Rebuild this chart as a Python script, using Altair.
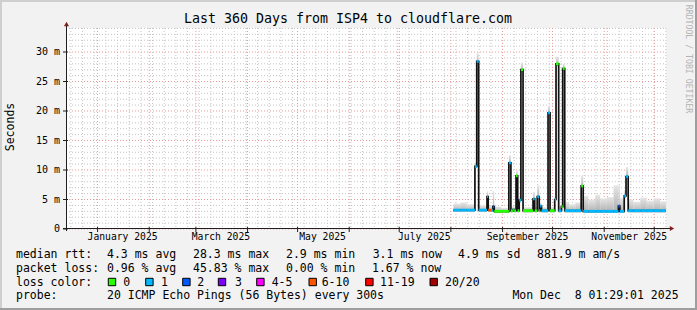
import altair as alt
import pandas as pd

# ------------------------------------------------------------------ data
seg_start = [
    "2025-08-02 12:00", "2025-08-06 14:00", "2025-08-10 14:00", "2025-08-15 10:00",
    "2025-08-16 12:00", "2025-08-17 16:00", "2025-08-22 16:00", "2025-08-23 09:00",
    "2025-08-25 02:00", "2025-08-26 04:00", "2025-08-27 00:00", "2025-08-31 02:00",
    "2025-09-04 19:00", "2025-09-06 00:00", "2025-09-07 04:00", "2025-09-08 00:00",
    "2025-09-09 02:00", "2025-09-10 02:00", "2025-09-11 00:00", "2025-09-12 00:00",
    "2025-09-13 07:00", "2025-09-19 07:00", "2025-09-20 07:00", "2025-09-21 19:00",
    "2025-09-23 00:00", "2025-09-23 14:00", "2025-09-24 09:00", "2025-09-28 07:00",
    "2025-09-29 12:00", "2025-10-02 07:00", "2025-10-03 02:00", "2025-10-04 16:00",
    "2025-10-06 07:00", "2025-10-07 02:00", "2025-10-08 07:00", "2025-10-11 02:00",
    "2025-10-14 14:00", "2025-10-18 04:00", "2025-10-19 09:00", "2025-10-22 14:00",
    "2025-10-26 14:00", "2025-10-29 14:00", "2025-11-02 14:00", "2025-11-06 14:00",
    "2025-11-09 12:00", "2025-11-10 09:00", "2025-11-13 00:00", "2025-11-14 02:00",
    "2025-11-15 09:00", "2025-11-18 14:00", "2025-11-22 14:00", "2025-11-26 14:00",
    "2025-11-30 14:00", "2025-12-04 14:00",
]
series_end = "2025-12-08 00:00"
seg_median = [
    3.2, 3.2, 3.2, 10.6, 28.4, 3.2, 5.5, 3.2, 3.2, 3.8, 3.0, 3.0,
    11.2, 3.1, 3.3, 3.1, 9.0, 3.1, 4.9, 27.0, 3.1, 5.1, 3.1, 5.5,
    3.1, 3.9, 3.1, 19.7, 3.1, 5.0, 28.0, 3.1, 3.8, 27.2, 3.1, 3.1,
    3.1, 7.3, 3.0, 3.0, 3.0, 3.0, 3.0, 3.0, 3.9, 3.0, 5.6, 8.9,
    3.1, 3.1, 3.1, 3.1, 3.1, 3.1,
]
seg_loss = [
    "1", "1", "1", "1", "1", "1", "1", "6-10", "1", "2", "0", "0",
    "1", "0", "1", "0", "0", "0", "1", "0", "0", "1", "0", "1",
    "0", "1", "1", "1", "0", "1", "0", "1", "0", "0", "1", "1",
    "1", "0", "1", "1", "1", "1", "1", "1", "2", "1", "1", "1",
    "1", "1", "1", "1", "1", "1",
]
smoke_lo = [
    2.9, 2.9, 2.9, 10.3, 28.0, 2.9, 5.1, 2.9, 2.9, 3.0, 2.7, 2.7,
    10.9, 2.8, 2.9, 2.8, 8.7, 2.8, 4.5, 26.6, 2.8, 4.8, 2.8, 5.2,
    2.8, 3.0, 2.8, 19.3, 2.8, 4.7, 27.6, 2.8, 3.0, 26.8, 2.8, 2.8,
    2.8, 7.0, 2.8, 2.8, 2.8, 2.8, 2.8, 2.8, 3.0, 2.8, 5.3, 8.6,
    2.8, 2.8, 2.8, 2.8, 2.8, 2.8,
]
smoke_hi = [
    4.3, 4.5, 4.2, 11.3, 29.8, 4.0, 6.4, 3.9, 3.9, 6.4, 3.8, 3.6,
    12.5, 3.8, 3.9, 3.8, 9.9, 3.8, 5.6, 28.2, 3.7, 6.3, 3.8, 7.4,
    3.9, 4.4, 3.7, 20.9, 3.7, 5.6, 29.2, 3.8, 4.2, 28.0, 4.6, 4.2,
    4.5, 9.0, 5.6, 5.0, 5.8, 5.2, 5.4, 7.4, 7.5, 5.2, 6.6, 10.5,
    5.0, 4.6, 5.3, 4.8, 5.2, 4.7,
]

loss_labels = ["0", "1", "2", "3", "4-5", "6-10", "11-19", "20/20"]
loss_colors = ["#26ff00", "#00b8ff", "#0059ff", "#7e00ff", "#ff00ff",
               "#ff5500", "#ff0000", "#a10000"]

month_starts = ["2025-01-01", "2025-02-01", "2025-03-01", "2025-04-01",
                "2025-05-01", "2025-06-01", "2025-07-01", "2025-08-01",
                "2025-09-01", "2025-10-01", "2025-11-01", "2025-12-01"]
month_label_dates = ["2025-01-16", "2025-03-16", "2025-05-16",
                     "2025-07-16", "2025-09-16", "2025-11-16"]
month_label_text = ["January 2025", "March 2025", "May 2025",
                    "July 2025", "September 2025", "November 2025"]
y_major = [0, 5, 10, 15, 20, 25, 30]
y_major_text = ["0\u00a0\u00a0", "5 m", "10 m", "15 m", "20 m", "25 m", "30 m"]
y_minor = [1, 2, 3, 4, 6, 7, 8, 9, 11, 12, 13, 14, 16, 17, 18, 19, 21, 22,
           23, 24, 26, 27, 28, 29, 31, 32, 33, 34]

title_text = "Last 360 Days from ISP4 to cloudflare.com"
rtt_stats = ["4.3 ms avg", "28.3 ms max", "2.9 ms min", "3.1 ms now",
             "4.9 ms sd", "881.9 m am/s"]
loss_stats = ["0.96 % avg", "45.83 % max", "0.00 % min", "1.67 % now"]
probe_text = "20 ICMP Echo Pings (56 Bytes) every 300s"
stamp_text = "Mon Dec  8 01:29:01 2025"

# ------------------------------------------------------------------ layout
W, H = 600, 201
MONO = "DejaVu Sans Mono"
x_scale = alt.Scale(domain=[
    alt.DateTime(year=2024, month=12, date=13, hours=1, minutes=29, seconds=1),
    alt.DateTime(year=2025, month=12, date=8, hours=1, minutes=29, seconds=1)])
y_scale = alt.Scale(domain=[0, 34.07], nice=False, zero=False)
color_scale = alt.Scale(domain=loss_labels, range=loss_colors)

ends = seg_start[1:] + [series_end]
segs = pd.DataFrame({"start": seg_start, "end": ends, "med": seg_median,
                     "loss": seg_loss, "lo": smoke_lo, "hi": smoke_hi})
line_df = pd.DataFrame({"t": seg_start + [series_end],
                        "med": seg_median + [seg_median[-1]]})
weeks = pd.DataFrame({"d": pd.date_range("2024-12-16", "2025-12-08", freq="7D").strftime("%Y-%m-%d")})
months = pd.DataFrame({"d": month_starts})
ymin_df = pd.DataFrame({"v": y_minor})
ymaj_df = pd.DataFrame({"v": y_major, "lab": y_major_text})
xlab_df = pd.DataFrame({"d": month_label_dates, "lab": month_label_text})
one = pd.DataFrame({"k": [0]})

X = lambda f: alt.X(f, scale=x_scale, axis=None)
Y = lambda f: alt.Y(f, scale=y_scale, axis=None)


def prule(x1, y1, x2, y2, color, width=1.0):
    return alt.Chart(one).mark_rule(color=color, strokeWidth=width).encode(
        x=alt.value(x1), y=alt.value(y1), x2=alt.value(x2), y2=alt.value(y2))


def text_layer(rows, **kw):
    df = pd.DataFrame({"txt": [r[0].replace(" ", "\u00a0") for r in rows],
                       "px": [r[1] for r in rows], "py": [r[2] for r in rows]})
    return alt.Chart(df).mark_text(font=MONO, color="#000000", **kw).encode(
        x=alt.X("px:Q", scale=None, axis=None),
        y=alt.Y("py:Q", scale=None, axis=None),
        text="txt:N")


layers = []
# grid
layers.append(alt.Chart(ymin_df).mark_rule(color="#c4c4c4", strokeDash=[1, 2], strokeWidth=1)
              .encode(y=Y("v:Q"), x=alt.value(0), x2=alt.value(W)))
layers.append(alt.Chart(weeks).mark_rule(color="#c4c4c4", strokeDash=[1, 2], strokeWidth=1)
              .encode(x=X("d:T"), y=alt.value(0), y2=alt.value(H)))
layers.append(alt.Chart(ymaj_df).mark_rule(color="#eb9a9a", strokeDash=[1, 2], strokeWidth=1)
              .encode(y=Y("v:Q"), x=alt.value(0), x2=alt.value(W)))
layers.append(alt.Chart(months).mark_rule(color="#eb9a9a", strokeDash=[1, 2], strokeWidth=1)
              .encode(x=X("d:T"), y=alt.value(0), y2=alt.value(H)))

# smoke
smoke_grad = alt.LinearGradient(
    gradient="linear", x1=0, x2=0, y1=1, y2=0,
    stops=[alt.GradientStop(color="#adadad", offset=0),
           alt.GradientStop(color="#e6e6e6", offset=1)])
layers.append(alt.Chart(segs).mark_rect(color=smoke_grad)
              .encode(x=X("start:T"), x2="end:T", y=Y("lo:Q"), y2="hi:Q"))
# median line
layers.append(alt.Chart(line_df).mark_line(interpolate="step-after", color="#111111", strokeWidth=1.7)
              .encode(x=X("t:T"), y=Y("med:Q")))
# loss colour band
layers.append(alt.Chart(segs).mark_rule(strokeWidth=2.8)
              .encode(x=X("start:T"), x2="end:T", y=Y("med:Q"),
                      color=alt.Color("loss:N", scale=color_scale, legend=None)))

# axes
layers.append(prule(0.5, -5, 0.5, 203, "#1f1f1f"))
layers.append(prule(-3, 200.5, 605, 200.5, "#1f1f1f"))
layers.append(alt.Chart(ymaj_df).mark_rule(color="#1f1f1f")
              .encode(y=Y("v:Q"), x=alt.value(-3), x2=alt.value(2)))
layers.append(alt.Chart(months).mark_rule(color="#1f1f1f")
              .encode(x=X("d:T"), y=alt.value(199), y2=alt.value(204)))
layers.append(alt.Chart(one).mark_point(shape="triangle-up", filled=True, size=26,
                                        color="#801f1f", opacity=1)
              .encode(x=alt.value(0.5), y=alt.value(-4)))
layers.append(alt.Chart(one).mark_point(shape="triangle-right", filled=True, size=26,
                                        color="#801f1f", opacity=1)
              .encode(x=alt.value(606), y=alt.value(200.5)))

# tick labels
layers.append(alt.Chart(ymaj_df).mark_text(font=MONO, fontSize=10, align="right",
                                           baseline="middle", color="#000000")
              .encode(y=Y("v:Q"), x=alt.value(-6), text="lab:N"))
layers.append(alt.Chart(xlab_df).mark_text(font=MONO, fontSize=9.7, align="center",
                                           baseline="alphabetic", color="#000000")
              .encode(x=X("d:T"), y=alt.value(212), text="lab:N"))

# frame (rrdtool shading)
layers.append(prule(-66, -27, 631, -27, "#cfcfcf", 2))
layers.append(prule(-65, -28, -65, 282, "#cfcfcf", 2))
layers.append(prule(630, -28, 630, 282, "#9e9e9e", 2))
layers.append(prule(-66, 281, 631, 281, "#9e9e9e", 2))

# titles
layers.append(text_layer([(title_text, 282, -5)], fontSize=13.3, align="center", baseline="alphabetic"))
layers.append(text_layer([("Seconds", -55.5, 99)], fontSize=11.5, align="center",
                         baseline="middle", angle=270))
layers.append(alt.Chart(pd.DataFrame({"txt": ["RRDTOOL / TOBI OETIKER"]}))
              .mark_text(font=MONO, fontSize=8.2, color="#b4b4b4", angle=90,
                         align="center", baseline="middle")
              .encode(x=alt.value(621.5), y=alt.value(31), text="txt:N"))

# legend / statistics
r1, r2, r3, r4 = 230.4, 244, 257.6, 271.2
rtt_x = [41, 127, 220, 306.7, 392, 471]
loss_x = [41, 127, 220, 306]
rows = [("median rtt:", -50, r1), ("packet loss:", -50, r2),
        ("loss color:", -50, r3), ("probe:", -50, r4),
        (probe_text, 41, r4), (stamp_text, 446.4, r4)]
rows += [(t, x, r1) for t, x in zip(rtt_stats, rtt_x)]
rows += [(t, x, r2) for t, x in zip(loss_stats, loss_x)]
box_x = [42.3, 79.7, 116.7, 152.3, 190.7, 243, 299.7, 364]
lab_x = [57.3, 95, 131.3, 169, 205.7, 255.7, 314, 379]
rows += [(t, x, r3) for t, x in zip(loss_labels, lab_x)]
layers.append(text_layer(rows, fontSize=11.5, align="left", baseline="alphabetic"))

box_df = pd.DataFrame({"loss": loss_labels, "px": box_x,
                       "px2": [b + 7.4 for b in box_x]})
layers.append(alt.Chart(box_df).mark_rect(stroke="#000000", strokeWidth=1)
              .encode(x=alt.X("px:Q", scale=None, axis=None), x2="px2:Q",
                      y=alt.value(250.3), y2=alt.value(257.7),
                      color=alt.Color("loss:N", scale=color_scale, legend=None)))

chart = (alt.layer(*layers)
         .resolve_scale(x="independent", y="independent")
         .properties(width=W, height=H,
                     autosize=alt.AutoSizeParams(type="none"),
                     padding={"left": 66, "top": 28, "right": 31, "bottom": 81},
                     background="#f2f2f2")
         .configure_view(fill="#ffffff", stroke="#ffffff", strokeWidth=0))

chart.save("out.html", embed_options={"renderer": "svg", "actions": False})
